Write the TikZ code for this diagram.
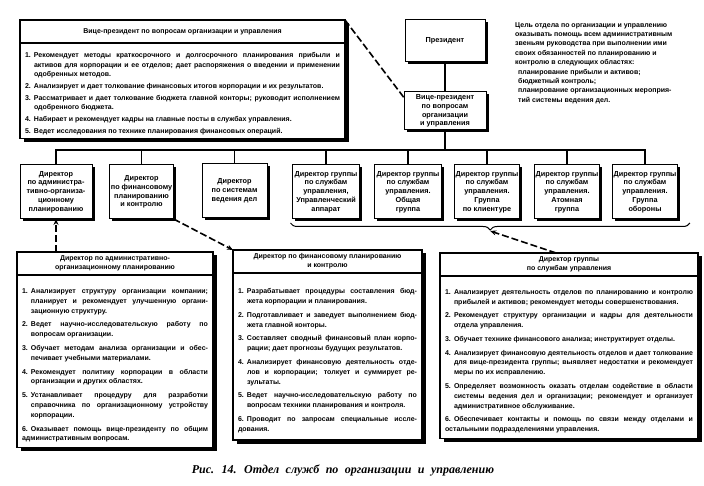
\documentclass[tikz,border=0pt]{standalone}
\usepackage{fontspec}
\setmainfont{Liberation Sans}
\newfontfamily\capfont{Liberation Serif}
\usepackage{tikz}
\usetikzlibrary{arrows.meta, positioning, calc, shadows, decorations.pathreplacing}
\makeatletter
\newcommand{\ruhyph}{\ifdefined\l@russian\language=\l@russian\fi\lefthyphenmin=2\righthyphenmin=2}
\makeatother
\newcommand{\rowfont}{\fontsize{7.3}{8.8}\selectfont\bfseries}
\newcommand{\bodyfont}{\fontsize{7}{9.2}\selectfont\bfseries\setlength{\parskip}{2.8pt}\ruhyph}
\newcommand{\lowfont}{\fontsize{7}{10}\selectfont\bfseries\setlength{\parskip}{3.5pt}\ruhyph}
\newcommand{\captext}{\capfont\bfseries\itshape\fontsize{12}{14}\selectfont\spaceskip=6.5pt\relax}
\newcommand{\itm}[1]{\par\noindent\hangindent=9pt\hangafter=1\makebox[9pt][l]{#1.}\ignorespaces}
\tikzset{
    rowbox/.style={rectangle, draw=black, line width=1pt, fill=white, outer sep=0pt, minimum width=65pt, minimum height=54pt, inner sep=1.5pt, align=center, font=\rowfont, drop shadow={shadow xshift=2.5pt, shadow yshift=-2.5pt, fill=black, opacity=1}},
    headbox/.style={rectangle, draw=black, line width=1.1pt, fill=white, outer sep=0pt, minimum height=23pt, inner sep=2pt, align=center, font=\bodyfont, drop shadow={shadow xshift=3.5pt, shadow yshift=-3.5pt, fill=black, opacity=1}},
    textbox/.style={headbox, inner sep=5pt, align=justify},
    lowbox/.style={textbox, font=\lowfont},
    conn/.style={line width=1.2pt},
    linkline/.style={line width=1.6pt, dash pattern=on 7pt off 3pt},
    linkarrow/.style={linkline, -{Stealth[length=6pt, width=5pt]}},
}

\begin{document}
\begin{tikzpicture}[x=1pt, y=-1pt]
    \fill[white] (0,0) rectangle (704,486);
    \useasboundingbox (0,0) rectangle (704,486);

    % vice-president, duties
    \node[headbox, anchor=north west, minimum width=325pt] (tlhead) at (20,20) {Вице-президент по вопросам организации и управления};
    \node[textbox, below=0pt of tlhead, text width=315pt, inner ysep=3pt, minimum height=92pt] (tlbody) {%
        \itm{1}Рекомендует методы краткосрочного и долгосрочного планирования прибыли и активов для корпорации и ее отделов; дает распоряжения о введении и применении одоб\-ренных методов.
        \itm{2}Анализирует и дает толкование финансовых итогов корпорации и их результатов.
        \itm{3}Рассматривает и дает толкование бюджета главной конторы; руководит испол\-нением одобренного бюджета.
        \itm{4}Набирает и рекомендует кадры на главные посты в службах управления.
        \itm{5}Ведет исследования по технике планирования финансовых операций.};

    % top of the chart
    \node[rowbox, minimum width=80pt, minimum height=42pt] (pres) at (445,41) {Президент};
    \node[rowbox, below=30pt of pres, minimum width=82pt, minimum height=38pt] (vp) {Вице-президент\\по вопросам\\организации\\и управления};
    \coordinate (bus) at ($(vp.south)+(0,20)$);

    \node[anchor=north west, align=left, inner sep=0pt, font=\fontsize{7}{9.4}\selectfont\bfseries] (goal) at (515,22) {%
        Цель отдела по организации и управлению\\
        оказывать помощь всем административным\\
        звеньям руководства при выполнении ими\\
        своих обязанностей по планированию и\\
        контролю в следующих областях:\\
        \hspace*{3pt}планирование прибыли и активов;\\
        \hspace*{3pt}бюджетный контроль;\\
        \hspace*{3pt}планирование организационных мероприя-\\
        \hspace*{3pt}тий системы ведения дел.};

    % directors
    \node[rowbox, minimum width=72pt] (d1) at (56,192) {Директор\\по администра-\\тивно-организа-\\ционному\\планированию};
    \node[rowbox, minimum width=63pt] (d2) at (141.5,192) {Директор\\по финансовому\\планированию\\и контролю};
    \node[rowbox] (d3) at (234.5,191) {Директор\\по системам\\ведения дел};
    \node[rowbox, minimum width=67pt] (d4) at (326,192) {Директор группы\\по службам\\управления,\\Управленческий\\аппарат};
    \node[rowbox, minimum width=67pt] (d5) at (408,192) {Директор группы\\по службам\\управления.\\Общая\\группа};
    \node[rowbox] (d6) at (487,192) {Директор группы\\по службам\\управления.\\Группа\\по клиентуре};
    \node[rowbox] (d7) at (567,192) {Директор группы\\по службам\\управления.\\Атомная\\группа};
    \node[rowbox] (d8) at (645,192) {Директор группы\\по службам\\управления.\\Группа\\обороны};

    \draw[conn] (pres) -- (vp);
    \draw[conn] (vp) -- (bus);
    \draw[conn] (d1.north) |- (bus) -| (d8.north);
    \foreach \n in {2,...,7}
        \draw[conn] (d\n.north) -- (d\n.north |- bus);

    % brace under the group directors
    \coordinate (brL) at ($(d4.south west)+(-2,4)$);
    \coordinate (brR) at ($(d8.south east)+(12,4)$);
    \draw[line width=1pt, decorate, decoration={brace, amplitude=7pt}] (brR) -- (brL);
    \coordinate (grptip) at ($(brL)!0.5!(brR)+(0,8)$);

    % duties of the directors
    \node[headbox, anchor=north west, minimum width=196pt] (blhead) at (17,252) {Директор по административно-\\организационному планированию};
    \node[lowbox, below=0pt of blhead, text width=186pt, minimum height=167pt] (blbody) {%
        \itm{1}Анализирует структуру организации компании; планирует и рекомендует улучшенную органи\-зационную структуру.
        \itm{2}Ведет научно-исследовательскую работу по вопросам организации.
        \itm{3}Обучает методам анализа организации и обес\-печивает учебными материалами.
        \itm{4}Рекомендует политику корпорации в области организации и других областях.
        \itm{5}Устанавливает процедуру для разработки справочника по организационному устройству корпорации.
        \itm{6}Оказывает помощь вице-президенту по общим административным вопросам.};

    \node[headbox, anchor=north west, minimum width=189pt] (bmhead) at (233,250) {Директор по финансовому планированию\\и контролю};
    \node[lowbox, below=0pt of bmhead, text width=179pt, minimum height=167pt] (bmbody) {%
        \itm{1}Разрабатывает процедуры составления бюд\-жета корпорации и планирования.
        \itm{2}Подготавливает и заведует выполнением бюд\-жета главной конторы.
        \itm{3}Составляет сводный финансовый план корпо\-рации; дает прогнозы будущих результатов.
        \itm{4}Анализирует финансовую деятельность отде\-лов и корпорации; толкует и суммирует ре\-зультаты.
        \itm{5}Ведет научно-исследовательскую работу по вопросам техники планирования и контроля.
        \itm{6}Проводит по запросам специальные иссле\-дования.};

    \node[headbox, anchor=north west, minimum width=258pt] (brhead) at (440,253) {Директор группы\\по службам управления};
    \node[lowbox, below=0pt of brhead, text width=248pt, minimum height=162pt] (brbody) {%
        \itm{1}Анализирует деятельность отделов по планированию и контролю прибылей и активов; рекомендует методы совер\-шенствования.
        \itm{2}Рекомендует структуру организации и кадры для деятель\-ности отдела управления.
        \itm{3}Обучает технике финансового анализа; инструктирует отделы.
        \itm{4}Анализирует финансовую деятельность отделов и дает тол\-кование для вице-президента группы; выявляет недостатки и рекомендует меры по их исправлению.
        \itm{5}Определяет возможность оказать отделам содействие в об\-ласти системы ведения дел и организации; рекомендует и организует административное обслуживание.
        \itm{6}Обеспечивает контакты и помощь по связи между отделами и остальными подразделениями управления.};

    % dashed links
    \draw[linkline] (tlhead.north east) -- (vp.162);
    \draw[linkarrow] (d1.south |- blhead.north) -- (d1.south);
    \draw[linkarrow] (d2.south east) -- (bmhead.north west);
    \draw[linkarrow] ($(brhead.north west)!0.45!(brhead.north east)$) -- (grptip);

    \node[font=\captext] (cap) at (343,470) {Рис. 14. Отдел служб по организации и управлению};
\end{tikzpicture}
\end{document}
